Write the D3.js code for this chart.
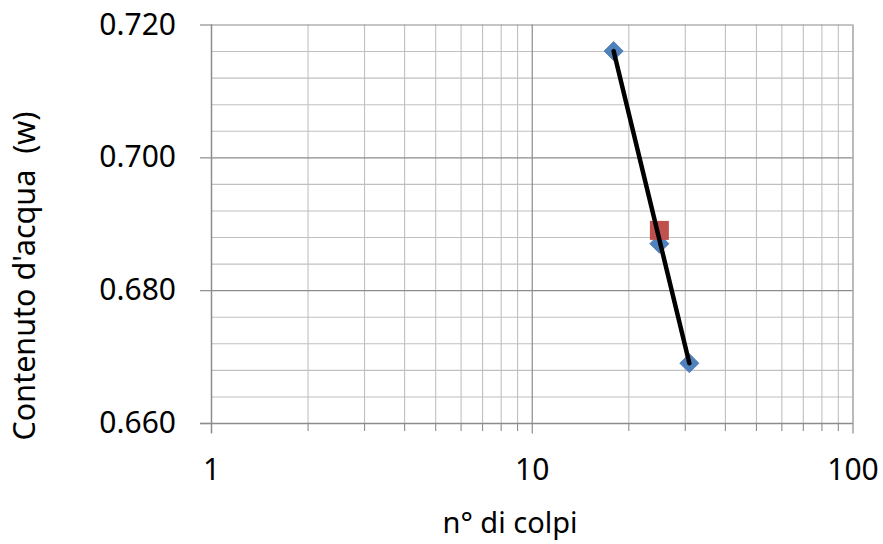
<!DOCTYPE html>
<html>
<head>
<meta charset="utf-8">
<script src="https://cdn.jsdelivr.net/npm/d3@7/dist/d3.min.js"></script>
<style>
  html, body { margin: 0; padding: 0; background: #ffffff; }
  svg { display: block; }
  text { font-family: "Noto Sans", "Open Sans", sans-serif; fill: #000; }
</style>
</head>
<body>
<svg id="chart" width="883" height="544"></svg>
<script>
// ---- data ----
const blows = [18, 25, 31];
const waterContent = [0.716, 0.687, 0.669];
const limitBlows = [25];
const limitWater = [0.689];
const trendBlows = [18, 31];
const trendWater = [0.716, 0.669];
const xMajorTicks = [1, 10, 100];
const xMinorTicks = [2, 3, 4, 5, 6, 7, 8, 9, 20, 30, 40, 50, 60, 70, 80, 90];
const yMajorTicks = [0.660, 0.680, 0.700, 0.720];
const yMinorTicks = [0.664, 0.668, 0.672, 0.676, 0.684, 0.688, 0.692, 0.696, 0.704, 0.708, 0.712, 0.716];
const xTitle = "n° di colpi";
const yTitle = "Contenuto d'acqua\u00a0\u00a0(w)";

// ---- layout ----
const L = 211, R = 852.5, T = 24.5, B = 423;
const svg = d3.select("#chart");
const x = d3.scaleLog().domain([1, 100]).range([L, R]);
const y = d3.scaleLinear().domain([0.66, 0.72]).range([B, T]);

const minorCol = "#c0c0c0", majorCol = "#8c8c8c";

// minor gridlines
svg.append("g").attr("transform", `translate(0,${B})`)
  .call(d3.axisBottom(x).tickValues(xMinorTicks).tickSize(-(B - T)).tickFormat(""))
  .call(g => g.select(".domain").remove())
  .call(g => g.selectAll("line").attr("stroke", minorCol).attr("stroke-width", 1.1));
svg.append("g").attr("transform", `translate(${L},0)`)
  .call(d3.axisLeft(y).tickValues(yMinorTicks).tickSize(-(R - L)).tickFormat(""))
  .call(g => g.select(".domain").remove())
  .call(g => g.selectAll("line").attr("stroke", minorCol).attr("stroke-width", 1.1));

// minor tick marks below x axis
svg.append("g").attr("transform", `translate(0,${B})`)
  .call(d3.axisBottom(x).tickValues(xMinorTicks).tickSize(8).tickFormat(""))
  .call(g => g.select(".domain").remove())
  .call(g => g.selectAll("line").attr("stroke", majorCol).attr("stroke-width", 1.1));

// major gridlines
svg.append("g").attr("transform", `translate(0,${B})`)
  .call(d3.axisBottom(x).tickValues(xMajorTicks).tickSize(-(B - T)).tickFormat(""))
  .call(g => g.select(".domain").remove())
  .call(g => g.selectAll("line").attr("stroke", majorCol).attr("stroke-width", 1.2));
svg.append("g").attr("transform", `translate(${L},0)`)
  .call(d3.axisLeft(y).tickValues(yMajorTicks).tickSize(-(R - L)).tickFormat(""))
  .call(g => g.select(".domain").remove())
  .call(g => g.selectAll("line").attr("stroke", majorCol).attr("stroke-width", 1.2));

// axes with labels
svg.append("g").attr("transform", `translate(0,${B})`)
  .call(d3.axisBottom(x).tickValues(xMajorTicks).tickSize(10.5).tickPadding(25).tickFormat(d3.format("d")))
  .call(g => g.select(".domain").attr("d", `M${L - 11},0.5H${R}`).attr("stroke", majorCol).attr("stroke-width", 1.3))
  .call(g => g.selectAll("line").attr("stroke", majorCol).attr("stroke-width", 1.2))
  .call(g => g.selectAll("text").attr("font-size", 30).attr("font-family", "Noto Sans").attr("fill", "#000"));

svg.append("g").attr("transform", `translate(${L},0)`)
  .call(d3.axisLeft(y).tickValues(yMajorTicks).tickSize(11).tickPadding(24).tickFormat(d3.format(".3f")))
  .call(g => g.select(".domain").attr("d", `M0.5,${T}V${B + 10}`).attr("stroke", majorCol).attr("stroke-width", 1.3))
  .call(g => g.selectAll("line").attr("stroke", majorCol).attr("stroke-width", 1.2))
  .call(g => g.selectAll("text").attr("font-size", 30).attr("font-family", "Noto Sans").attr("fill", "#000"));

// titles
svg.append("text").attr("x", 510).attr("y", 533).attr("text-anchor", "middle")
  .attr("font-size", 29).text(xTitle);
svg.append("text").attr("transform", "translate(35,276) rotate(-90)").attr("text-anchor", "middle")
  .attr("font-size", 30.5).text(yTitle);

// data: diamonds
const pts = blows.map((b, i) => ({ b, w: waterContent[i] }));
svg.append("g").selectAll("path").data(pts).join("path")
  .attr("d", d3.symbol(d3.symbolSquare, 13.5 * 13.5))
  .attr("transform", d => `translate(${x(d.b)},${y(d.w)}) rotate(45)`)
  .attr("fill", "#4f81bd").attr("stroke", "#4a7ab3").attr("stroke-width", 0.8);

// liquid limit square
const ll = limitBlows.map((b, i) => ({ b, w: limitWater[i] }));
svg.append("g").selectAll("path").data(ll).join("path")
  .attr("d", d3.symbol(d3.symbolSquare, 19 * 19))
  .attr("transform", d => `translate(${x(d.b)},${y(d.w)})`)
  .attr("fill", "#c0504d");

// trend line
const trend = trendBlows.map((b, i) => ({ b, w: trendWater[i] }));
svg.append("path").datum(trend)
  .attr("d", d3.line().x(d => x(d.b)).y(d => y(d.w)))
  .attr("fill", "none").attr("stroke", "#000").attr("stroke-width", 4.5).attr("stroke-linecap", "round");
</script>
</body>
</html>
